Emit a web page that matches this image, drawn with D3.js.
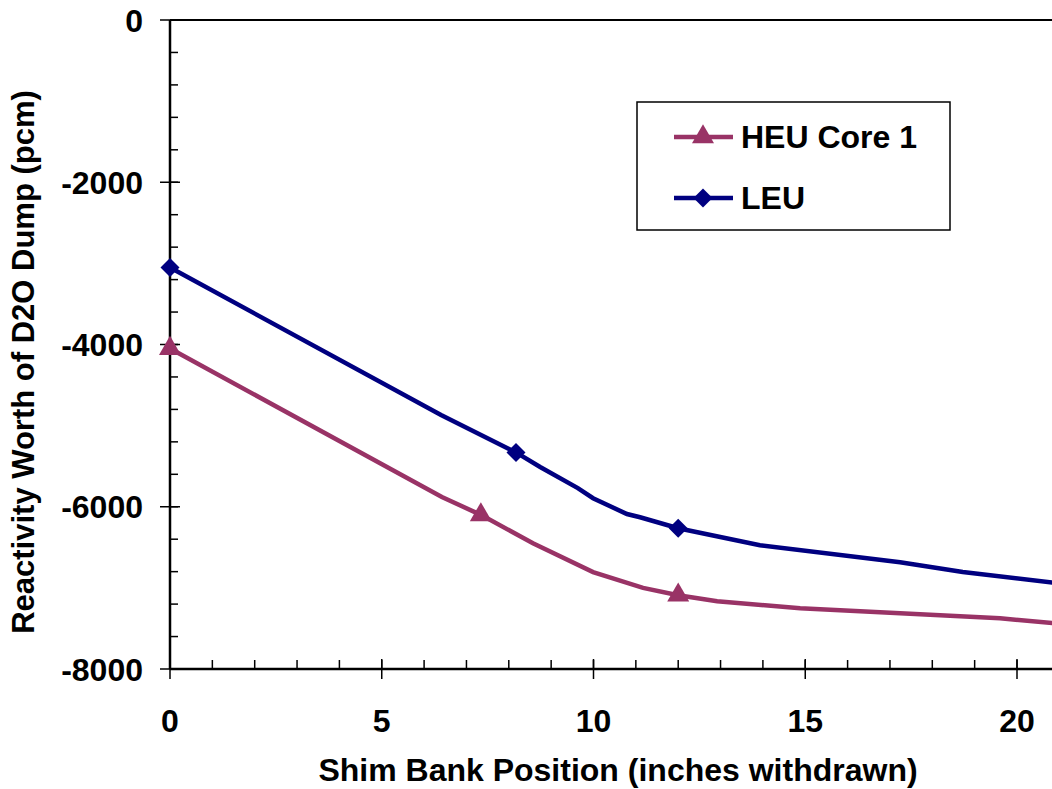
<!DOCTYPE html>
<html>
<head>
<meta charset="utf-8">
<script src="https://cdn.jsdelivr.net/npm/d3@7"></script>
<style>
  body { margin: 0; background: #fff; }
  svg { display: block; }
  text { font-family: "Liberation Sans", Arial, sans-serif; font-weight: bold; fill: #000; }
</style>
</head>
<body>
<svg width="1052" height="789"></svg>
<script>
// shim bank position (inches withdrawn) vs reactivity worth (pcm)
var heuX = [0, 6.42, 7.34, 8.57, 9.99, 11.17, 12.0, 12.92, 14.88, 19.6, 21];
var heuY = [-4050, -5880, -6100, -6450, -6805, -7000, -7090, -7165, -7250, -7375, -7440];
var heuMarked = [0, 7.34, 12.0];

var leuX = [0, 6.4, 8.17, 8.74, 9.63, 9.99, 10.79, 11.1, 12.0, 13.93, 17.24, 18.72, 21];
var leuY = [-3050, -4870, -5330, -5510, -5770, -5895, -6090, -6130, -6265, -6475, -6685, -6805, -6945];
var leuMarked = [0, 8.17, 12.0];

var xTicks = [0, 5, 10, 15, 20];
var yTicks = [0, -2000, -4000, -6000, -8000];
var seriesNames = ["HEU Core 1", "LEU"];

var svg = d3.select("svg");

var x = d3.scaleLinear().domain([0, 25]).range([170, 170 + 25 * 42.35]);
var y = d3.scaleLinear().domain([-8000, 0]).range([669, 20]);

var heuColor = "#993366", leuColor = "#000080";

// frame top line
svg.append("line")
    .attr("x1", x(0)).attr("x2", 1052)
    .attr("y1", y(0)).attr("y2", y(0))
    .attr("stroke", "#000").attr("stroke-width", 2);

// y axis: minor ticks every 400 inside, major crossing
var yMinor = d3.range(-8000, 1, 400);
svg.selectAll(".yminor").data(yMinor).enter().append("line")
    .attr("x1", x(0)).attr("x2", x(0) + 8)
    .attr("y1", d => y(d)).attr("y2", d => y(d))
    .attr("stroke", "#000").attr("stroke-width", 1.5);
svg.selectAll(".ymajor").data(yTicks).enter().append("line")
    .attr("x1", x(0) - 10).attr("x2", x(0) + 10)
    .attr("y1", d => y(d)).attr("y2", d => y(d))
    .attr("stroke", "#000").attr("stroke-width", 1.5);
svg.selectAll(".ylab").data(yTicks).enter().append("text")
    .text(d => d)
    .attr("x", 143)
    .attr("y", d => y(d) + 11.5)
    .attr("text-anchor", "end")
    .style("font-size", "32px");

// x axis: minor ticks every 1 inside, major crossing
var xMinor = d3.range(0, 25, 1);
svg.selectAll(".xminor").data(xMinor).enter().append("line")
    .attr("x1", d => x(d)).attr("x2", d => x(d))
    .attr("y1", y(-8000)).attr("y2", y(-8000) - 9)
    .attr("stroke", "#000").attr("stroke-width", 1.5);
svg.selectAll(".xmajor").data(xTicks).enter().append("line")
    .attr("x1", d => x(d)).attr("x2", d => x(d))
    .attr("y1", y(-8000) - 10).attr("y2", y(-8000) + 10)
    .attr("stroke", "#000").attr("stroke-width", 1.5);
svg.selectAll(".xlab").data(xTicks).enter().append("text")
    .text(d => d)
    .attr("x", d => x(d))
    .attr("y", 732)
    .attr("text-anchor", "middle")
    .style("font-size", "32px");

// axis lines
svg.append("line")
    .attr("x1", x(0)).attr("x2", x(0))
    .attr("y1", y(0)).attr("y2", y(-8000))
    .attr("stroke", "#000").attr("stroke-width", 2.5);
svg.append("line")
    .attr("x1", x(0)).attr("x2", 1052)
    .attr("y1", y(-8000)).attr("y2", y(-8000))
    .attr("stroke", "#000").attr("stroke-width", 2.5);

// axis titles
svg.append("text")
    .text("Shim Bank Position (inches withdrawn)")
    .attr("x", 618).attr("y", 781)
    .attr("text-anchor", "middle")
    .style("font-size", "32px");
svg.append("text")
    .text("Reactivity Worth of D2O Dump (pcm)")
    .attr("transform", "translate(34,362) rotate(-90)")
    .attr("text-anchor", "middle")
    .style("font-size", "31px");

// series lines
var line = d3.line().x(d => x(d[0])).y(d => y(d[1]));
var heuData = d3.zip(heuX, heuY);
var leuData = d3.zip(leuX, leuY);

svg.append("path").datum(heuData)
    .attr("d", line).attr("fill", "none")
    .attr("stroke", heuColor).attr("stroke-width", 4.5);
svg.append("path").datum(leuData)
    .attr("d", line).attr("fill", "none")
    .attr("stroke", leuColor).attr("stroke-width", 4.5);

var tri = d3.symbol().type(d3.symbolTriangle).size(210);
var dia = d3.symbol().type(d3.symbolSquare).size(180);

svg.selectAll(".heupt").data(heuData.filter(d => heuMarked.indexOf(d[0]) >= 0)).enter()
    .append("path")
    .attr("d", tri)
    .attr("transform", d => "translate(" + x(d[0]) + "," + y(d[1]) + ")")
    .attr("fill", heuColor);
svg.selectAll(".leupt").data(leuData.filter(d => leuMarked.indexOf(d[0]) >= 0)).enter()
    .append("path")
    .attr("d", dia)
    .attr("transform", d => "translate(" + x(d[0]) + "," + y(d[1]) + ") rotate(45)")
    .attr("fill", leuColor);

// legend
svg.append("rect")
    .attr("x", 637).attr("y", 102)
    .attr("width", 313).attr("height", 128)
    .attr("fill", "#fff").attr("stroke", "#000").attr("stroke-width", 1.5);

var legendColors = [heuColor, leuColor];
var legendRows = [137, 198];
seriesNames.forEach(function (name, i) {
    svg.append("line")
        .attr("x1", 674).attr("x2", 733)
        .attr("y1", legendRows[i]).attr("y2", legendRows[i])
        .attr("stroke", legendColors[i]).attr("stroke-width", 4.5);
    svg.append("path")
        .attr("d", i === 0 ? tri : dia)
        .attr("transform", "translate(703," + legendRows[i] + ")" + (i === 0 ? "" : " rotate(45)"))
        .attr("fill", legendColors[i]);
    svg.append("text")
        .text(name)
        .attr("x", 741).attr("y", legendRows[i] + 11)
        .style("font-size", "32px");
});
</script>
</body>
</html>
